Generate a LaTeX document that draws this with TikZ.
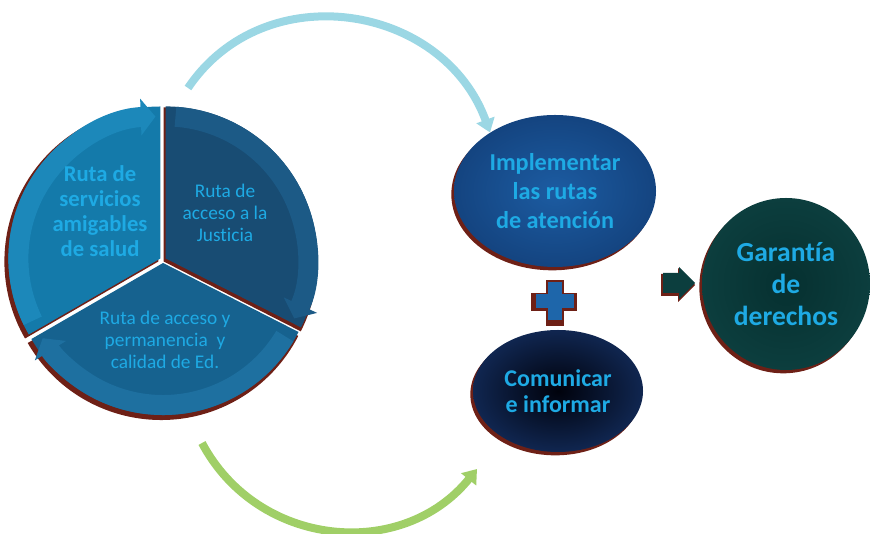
\documentclass[tikz,border=0pt]{standalone}
\usepackage{fontspec}
\setmainfont{Carlito}[Ligatures=NoCommon]
\usetikzlibrary{arrows.meta,shapes.geometric,shadows}

\definecolor{rimred}{RGB}{110,32,22}
\definecolor{routecyan}{RGB}{30,170,228}
\definecolor{segA}{RGB}{20,122,170}
\definecolor{bandA}{RGB}{28,136,186}
\definecolor{segB}{RGB}{24,76,115}
\definecolor{bandB}{RGB}{28,90,134}
\definecolor{segC}{RGB}{22,98,143}
\definecolor{bandC}{RGB}{30,112,160}
\definecolor{implin}{RGB}{28,92,162}
\definecolor{implout}{RGB}{20,68,128}
\definecolor{commin}{RGB}{0,2,12}
\definecolor{commout}{RGB}{16,38,80}
\definecolor{rightsin}{RGB}{6,48,48}
\definecolor{rightsout}{RGB}{12,62,62}
\definecolor{plusblue}{RGB}{30,102,170}
\definecolor{skyflow}{RGB}{155,215,228}
\definecolor{leafflow}{RGB}{160,207,103}

\begin{document}
\begin{tikzpicture}
        [
            x = 0.75pt, y = 0.75pt,
            rim/.style     = {fill=rimred},
            band/.style    = {line width=15pt, -{Triangle[width=27pt,length=11pt]}},
            route/.style   = {align=center, text=routecyan, font=\fontsize{14.5}{16.5}\selectfont},
            bubble/.style  = {ellipse, inner sep=0pt, align=center, text=routecyan,
                              shading=radial, font=\bfseries\fontsize{18.2}{21.5}\selectfont,
                              general shadow={fill=rimred, shadow xshift=-2pt, shadow yshift=-2.5pt}},
            flow/.style    = {line width=6pt, -{Triangle[width=14pt,length=10pt]}},
        ]
        \useasboundingbox (0,0) rectangle (870,534);

        % cycle of the three routes
        \coordinate (hub) at (163,274);
        \foreach \lo/\hi/\mid/\body/\edge in {90/210/150/segA/bandA, -27/90/31.5/segB/bandB, 210/333/271.5/segC/bandC} {
            \coordinate (apex) at ([shift={(\mid:3)}]hub);
            \fill[rim] ([shift={(-2,-3)}]apex) -- ++(\lo:154) arc[start angle=\lo, end angle=\hi, radius=154] -- cycle;
            \fill[\body] (apex) -- ++(\lo:152) arc[start angle=\lo, end angle=\hi, radius=152] -- cycle;
            \draw[band, \edge] (apex) ++(\hi-4:142) arc[start angle=\hi-4, end angle=\lo+2, radius=142];
        }
        \node[route, font=\bfseries\fontsize{17}{18.75}\selectfont] (health) at (100,323) {Ruta de\\servicios\\amigables\\de salud};
        \node[route] (justice) at (225,321) {Ruta de\\acceso a la\\Justicia};
        \node[route] (school) at (165,194) {Ruta de acceso y\\permanencia~ y\\calidad de Ed.};

        % actions
        \node[bubble, minimum width=151.5pt, minimum height=114pt, inner color=implin, outer color=implout]
            (impl) at (555,343) {Implementar\\las rutas\\de atención};
        \node[bubble, minimum width=127.5pt, minimum height=91.5pt, inner color=commin, outer color=commout,
              font=\bfseries\fontsize{18}{19.5}\selectfont]
            (comm) at (558,143) {Comunicar\\e informar};
        \node[bubble, minimum width=126pt, minimum height=129pt, inner color=rightsin, outer color=rightsout,
              font=\bfseries\fontsize{20.7}{24}\selectfont]
            (rights) at (786,250) {Garantía\\de\\derechos};

        % plus sign and block arrow
        \coordinate (plus) at (555,233);
        \fill[rim] ([shift={(-24,-10)}]plus) rectangle ++(46,18);
        \fill[rim] ([shift={(-9,-25)}]plus) rectangle ++(18,46);
        \fill[plusblue] ([shift={(-19,-7)}]plus) rectangle ++(38,14);
        \fill[plusblue] ([shift={(-7,-19)}]plus) rectangle ++(14,38);
        \coordinate (tip) at (695,251);
        \fill[rim] ([shift={(-34,-13)}]tip) -- ++(17,0) -- ++(0,-6) -- ++(17,17) -- ++(-17,17) -- ++(0,-6) -- ++(-17,0) -- cycle;
        \fill[rightsout] ([shift={(-32,-10)}]tip) -- ++(16,0) -- ++(0,-6) -- (tip) -- ++(-16,16) -- ++(0,-6) -- ++(-16,0) -- cycle;

        % curved connectors
        \coordinate (skystart) at (188,446);
        \coordinate (leafstart) at (202,91);
        \coordinate (leafend) at (477,65);
        \draw[flow, skyflow] (skystart) to[out=56, in=110, looseness=1.15] (impl.138);
        \draw[flow, leafflow] (leafstart) to[out=-62, in=231, looseness=1.1] (leafend);
    \end{tikzpicture}
\end{document}
